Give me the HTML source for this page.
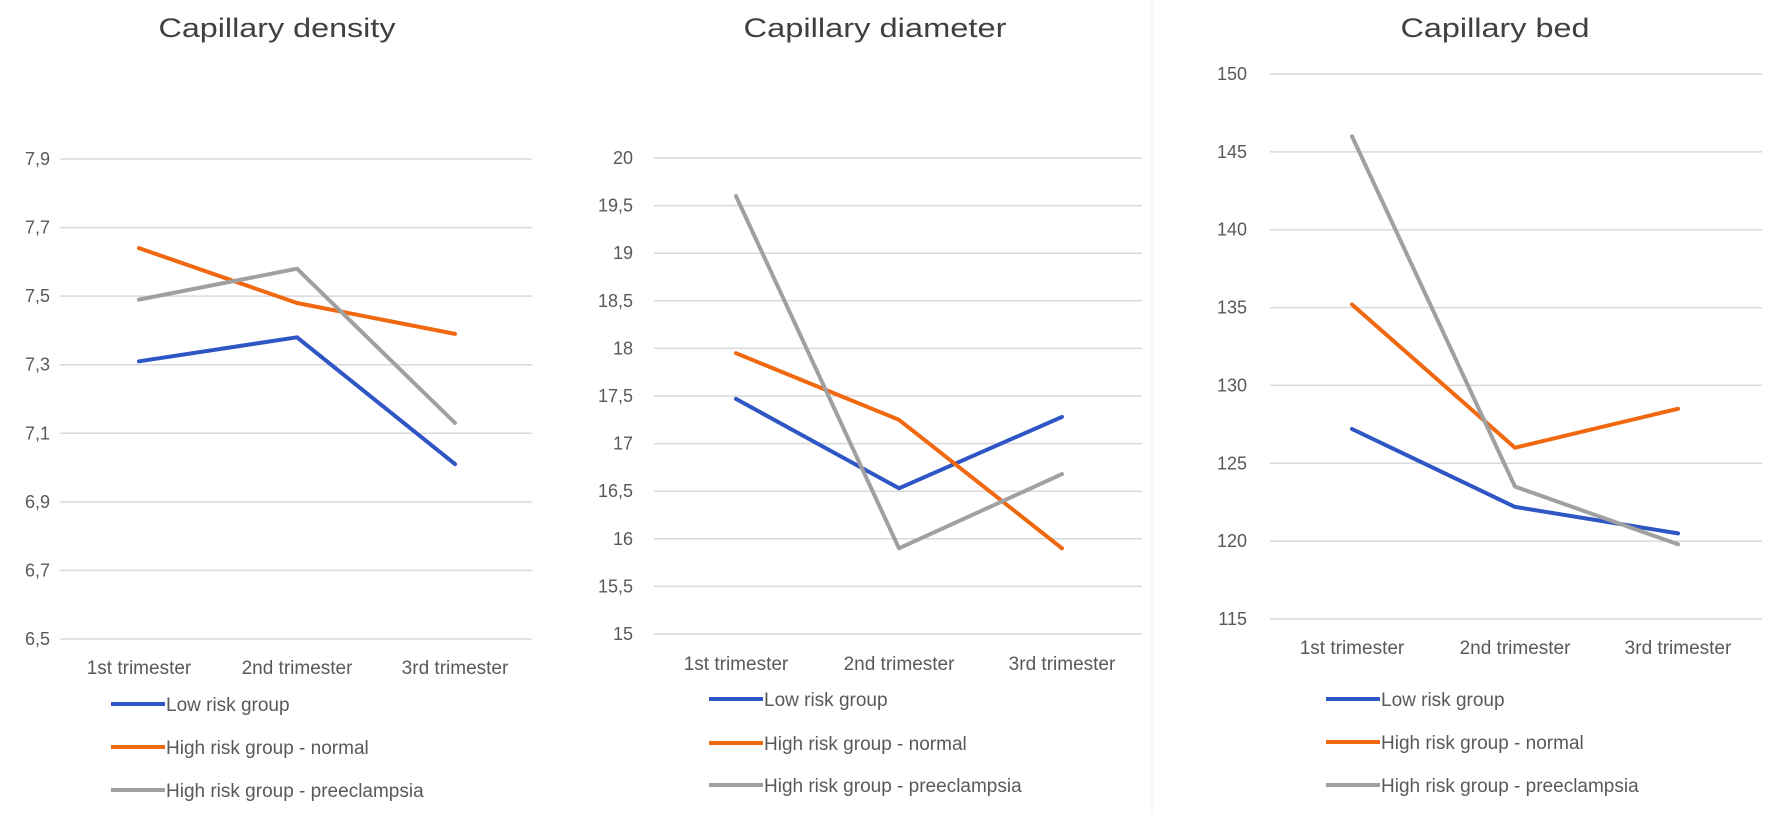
<!DOCTYPE html>
<html><head><meta charset="utf-8"><style>
body{margin:0;background:#fff;width:1772px;height:814px;overflow:hidden}
svg{display:block;font-family:"Liberation Sans",sans-serif}
</style></head><body>
<svg id="c" width="1772" height="814">
<line x1="1152" y1="0" x2="1152" y2="814" stroke="#f0f0f0" stroke-width="1"/>
</svg>
<script>
const categories = ["1st trimester","2nd trimester","3rd trimester"];
const seriesNames = ["Low risk group","High risk group - normal","High risk group - preeclampsia"];
const densityLow = [7.31, 7.38, 7.01];
const densityNormal = [7.64, 7.48, 7.39];
const densityPre = [7.49, 7.58, 7.13];
const diameterLow = [17.47, 16.53, 17.28];
const diameterNormal = [17.95, 17.25, 15.9];
const diameterPre = [19.6, 15.9, 16.68];
const bedLow = [127.2, 122.2, 120.5];
const bedNormal = [135.2, 126.0, 128.5];
const bedPre = [146.0, 123.5, 119.8];
const densityTicks = [6.5, 6.7, 6.9, 7.1, 7.3, 7.5, 7.7, 7.9];
const diameterTicks = [15, 15.5, 16, 16.5, 17, 17.5, 18, 18.5, 19, 19.5, 20];
const bedTicks = [115, 120, 125, 130, 135, 140, 145, 150];

const colors = ["#2e56c4", "#f0680f", "#a0a0a0"];
const svg = document.getElementById('c');
const NS = "http://www.w3.org/2000/svg";
function mk(tag, attrs, parent){
  const e = document.createElementNS(NS, tag);
  for (const k in attrs) e.setAttribute(k, attrs[k]);
  (parent||svg).appendChild(e); return e;
}
function fmt(v){ return String(v).replace('.', ','); }

const panels = [
  {key:'density', title:'Capillary density', tx:277, tw:237, data:[densityLow,densityNormal,densityPre], ticks:densityTicks,
   gx0:60, gx1:532, yTop:159, yBot:639, xs:[139,297,455], labR:50, xlabY:674, legX:111, legY:[704,747,790]},
  {key:'diameter', title:'Capillary diameter', tx:875, tw:263, data:[diameterLow,diameterNormal,diameterPre], ticks:diameterTicks,
   gx0:654, gx1:1142, yTop:158, yBot:634, xs:[736,899,1062], labR:633, xlabY:670, legX:709, legY:[699,743,785]},
  {key:'bed', title:'Capillary bed', tx:1495, tw:189, data:[bedLow,bedNormal,bedPre], ticks:bedTicks,
   gx0:1270, gx1:1762, yTop:74, yBot:619, xs:[1352,1515,1678], labR:1247, xlabY:654, legX:1326, legY:[699,742,785]}
];

panels.forEach(p => {
  const g = mk('g', {});
  
  
  const tmin = p.ticks[0], tmax = p.ticks[p.ticks.length-1];
  const y = v => p.yBot - (v - tmin) / (tmax - tmin) * (p.yBot - p.yTop);
  const t = mk('text', {x:p.tx, y:37, 'text-anchor':'middle', 'font-size':27, fill:'#404040', textLength:p.tw, lengthAdjust:'spacingAndGlyphs'}, g);
  t.textContent = p.title;
  
  
  p.ticks.forEach(tv => {
    const ln = mk('line', {x1:p.gx0, x2:p.gx1, y1:y(tv), y2:y(tv), stroke:'#d9d9d9', 'stroke-width':1.5}, g);
    
    
    const lb = mk('text', {x:p.labR, y:y(tv)+6, 'text-anchor':'end', 'font-size':18, fill:'#595959'}, g);
    lb.textContent = fmt(tv);
    
    
  });
  categories.forEach((c, i) => {
    const lb = mk('text', {x:p.xs[i], y:p.xlabY, 'text-anchor':'middle', 'font-size':19, fill:'#595959'}, g);
    lb.textContent = c;
    
    
  });
  p.data.forEach((arr, s) => {
    const pts = arr.map((v, i) => p.xs[i] + ',' + y(v).toFixed(1)).join(' ');
    const pl = mk('polyline', {points:pts, fill:'none', stroke:colors[s], 'stroke-width':4, 'stroke-linejoin':'round', 'stroke-linecap':'round'}, g);
    
    
    const lg = mk('g', {}, g);
    
    
    mk('line', {x1:p.legX, x2:p.legX+54, y1:p.legY[s], y2:p.legY[s], stroke:colors[s], 'stroke-width':4}, lg);
    const lt = mk('text', {x:p.legX+55, y:p.legY[s]+7, 'font-size':19, fill:'#595959'}, lg);
    lt.textContent = seriesNames[s];
  });
});
</script>
</body></html>
